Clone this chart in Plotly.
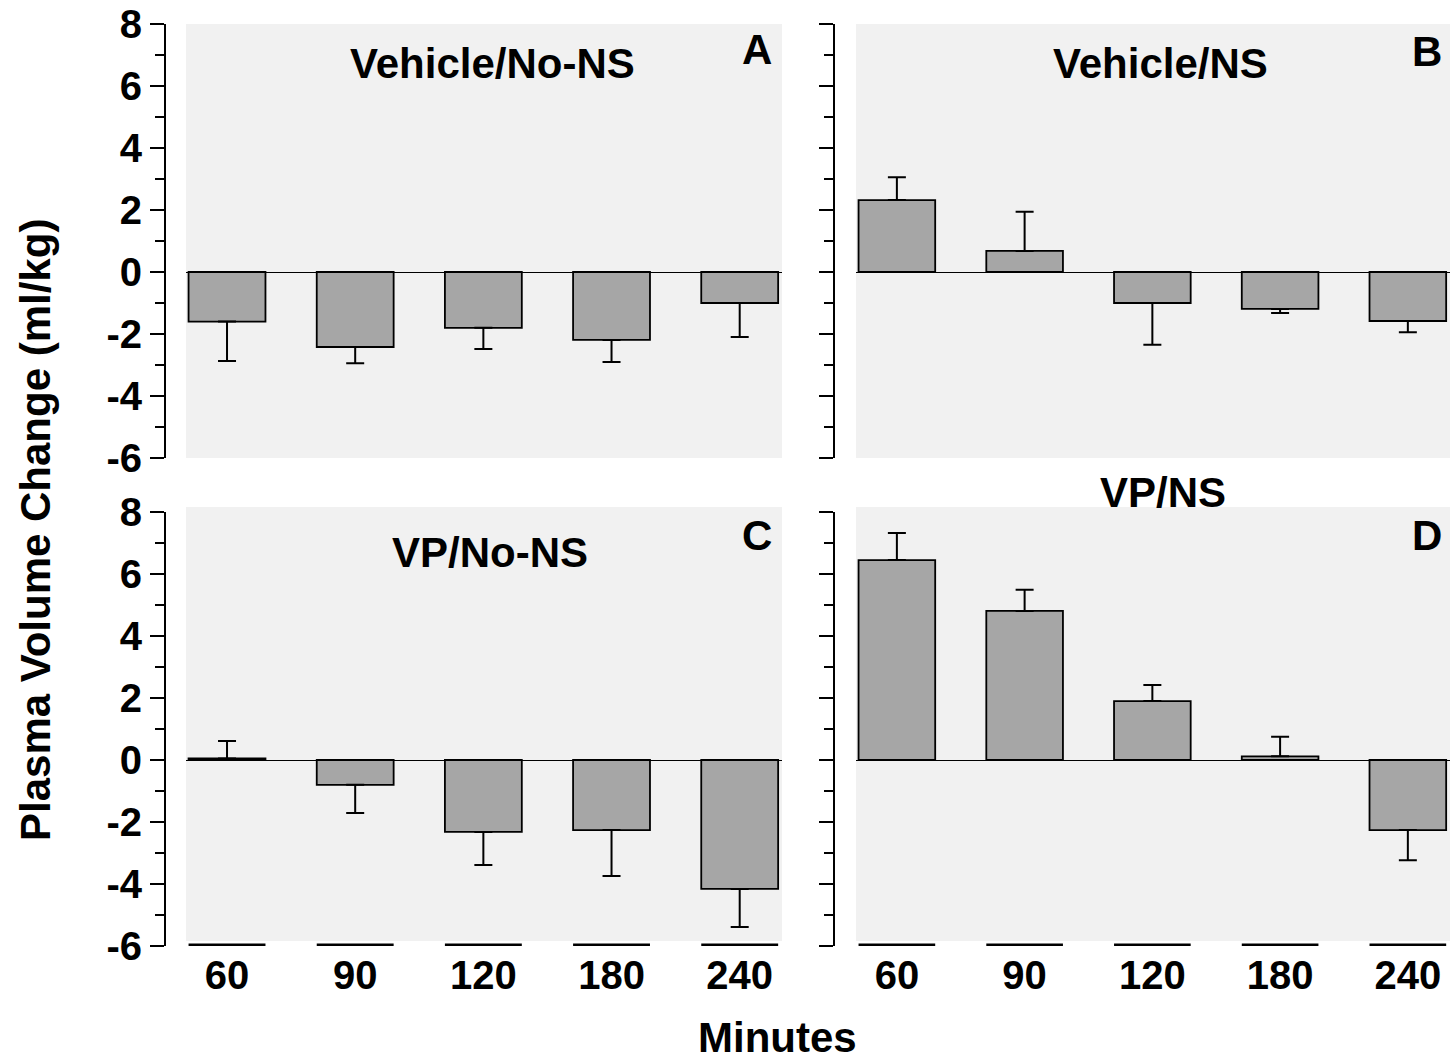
import plotly.graph_objects as go

# Sampling times (minutes) shown on the x axis
minutes = ["60", "90", "120", "180", "240"]

# Y-axis tick values and their labels (plain hyphen as minus sign)
y_ticks = [-6, -4, -2, 0, 2, 4, 6, 8]
y_tick_labels = ["-6", "-4", "-2", "0", "2", "4", "6", "8"]

# Mean plasma volume change (ml/kg) and SEM for each treatment group
vehicle_no_ns = [-1.6, -2.42, -1.8, -2.19, -1.0]
vehicle_no_ns_sem = [1.27, 0.52, 0.68, 0.71, 1.1]

vehicle_ns = [2.32, 0.68, -1.0, -1.19, -1.58]
vehicle_ns_sem = [0.74, 1.26, 1.35, 0.13, 0.36]

vp_no_ns = [0.05, -0.8, -2.32, -2.26, -4.16]
vp_no_ns_sem = [0.56, 0.91, 1.07, 1.48, 1.23]

vp_ns = [6.45, 4.81, 1.9, 0.12, -2.26]
vp_ns_sem = [0.87, 0.68, 0.52, 0.63, 0.97]

panel_titles = ["Vehicle/No-NS", "Vehicle/NS", "VP/No-NS", "VP/NS"]
panel_letters = ["A", "B", "C", "D"]

W, H = 1453, 1060
FONT = "Liberation Sans, Arial, Helvetica, sans-serif"
BAR_FILL = "#a6a6a6"
BG = "#f1f1f1"

groups = [
    (vehicle_no_ns, vehicle_no_ns_sem),
    (vehicle_ns, vehicle_ns_sem),
    (vp_no_ns, vp_no_ns_sem),
    (vp_ns, vp_ns_sem),
]

# Pixel layout of the four panels: (left, right) of plot area, y-axis line x, (top, bottom)
cols = [(186, 782, 165), (856, 1450, 834)]
rows = [(24, 458), (512, 946)]
# Background panels of the lower row sit a few pixels above the axis span
bg_shift = [0, 5]

fig = go.Figure()
x_pos = list(range(len(minutes)))

for k, (vals, sem) in enumerate(groups):
    r, c = divmod(k, 2)
    n = k + 1
    xa = "x" if n == 1 else f"x{n}"
    ya = "y" if n == 1 else f"y{n}"
    up = [s if v >= 0 else 0 for v, s in zip(vals, sem)]
    down = [s if v < 0 else 0 for v, s in zip(vals, sem)]
    fig.add_trace(go.Bar(
        x=x_pos, y=vals, width=0.6,
        marker=dict(color=BAR_FILL, line=dict(color="black", width=1.8)),
        error_y=dict(type="data", symmetric=False, array=up, arrayminus=down,
                     color="black", thickness=2, width=9),
        xaxis=xa, yaxis=ya, showlegend=False, hoverinfo="skip",
    ))

    left, right, axis_x = cols[c]
    top, bottom = rows[r]
    xdom = [left / W, right / W]
    ydom = [1 - bottom / H, 1 - top / H]
    xkey = "xaxis" if n == 1 else f"xaxis{n}"
    ykey = "yaxis" if n == 1 else f"yaxis{n}"
    bottom_row = (r == 1)
    fig.update_layout(**{
        xkey: dict(
            domain=xdom, anchor=ya, range=[-0.32, 4.33],
            tickmode="array", tickvals=x_pos, ticktext=minutes,
            showticklabels=bottom_row, ticks="",
            ticklabelstandoff=2,
            showline=False, showgrid=False, zeroline=False,
            tickfont=dict(family=FONT, size=40, color="black", weight=700),
            automargin=False, fixedrange=True,
        ),
        ykey: dict(
            domain=ydom, anchor="free", position=axis_x / W,
            range=[-6, 8], tickmode="array", tickvals=y_ticks, ticktext=y_tick_labels,
            ticks="outside", ticklen=14, tickwidth=2, tickcolor="black",
            minor=dict(ticks="outside", dtick=1, tick0=-6, ticklen=9, tickwidth=2,
                       tickcolor="black", showgrid=False),
            showline=True, linecolor="black", linewidth=2,
            showticklabels=(c == 0),
            tickfont=dict(family=FONT, size=40, color="black", weight=700),
            showgrid=False, zeroline=True, zerolinecolor="black", zerolinewidth=1.2,
            automargin=False, fixedrange=True,
        ),
    })

    # Gray panel background
    s = bg_shift[r]
    fig.add_shape(type="rect", xref="paper", yref="paper",
                  x0=xdom[0], x1=xdom[1],
                  y0=1 - (bottom - s) / H, y1=1 - (top - s) / H,
                  fillcolor=BG, line=dict(width=0), layer="below")

    # Broken baseline segments under each category in the lower panels
    if bottom_row:
        for i in x_pos:
            fig.add_shape(type="line", xref=xa, yref=ya,
                          x0=i - 0.3, x1=i + 0.3, y0=-5.965, y1=-5.965,
                          line=dict(color="black", width=2.6))

title_font = dict(family=FONT, size=42, color="black", weight=700)
title_pos = [(492, 64), (1160, 64), (490, 552), (1163, 492)]
letter_pos = [(757, 50), (1427, 52), (757, 535), (1427, 535)]
for k in range(4):
    tx, ty = title_pos[k]
    fig.add_annotation(text=panel_titles[k], xref="paper", yref="paper",
                       x=tx / W, y=1 - ty / H, xanchor="center", yanchor="middle",
                       showarrow=False, font=title_font)
    lx, ly = letter_pos[k]
    fig.add_annotation(text=panel_letters[k], xref="paper", yref="paper",
                       x=lx / W, y=1 - ly / H, xanchor="center", yanchor="middle",
                       showarrow=False, font=title_font)

fig.add_annotation(text="Plasma Volume Change (ml/kg)", xref="paper", yref="paper",
                   x=35 / W, y=1 - 530 / H, textangle=-90,
                   xanchor="center", yanchor="middle", showarrow=False, font=title_font)
fig.add_annotation(text="Minutes", xref="paper", yref="paper",
                   x=777 / W, y=1 - 1037 / H, xanchor="center", yanchor="middle",
                   showarrow=False, font=title_font)

fig.update_layout(
    width=W, height=H, margin=dict(l=0, r=0, t=0, b=0),
    paper_bgcolor="white", plot_bgcolor="rgba(0,0,0,0)",
    bargap=0.4, showlegend=False,
)

fig.write_html("out.html", config={"displayModeBar": False})
